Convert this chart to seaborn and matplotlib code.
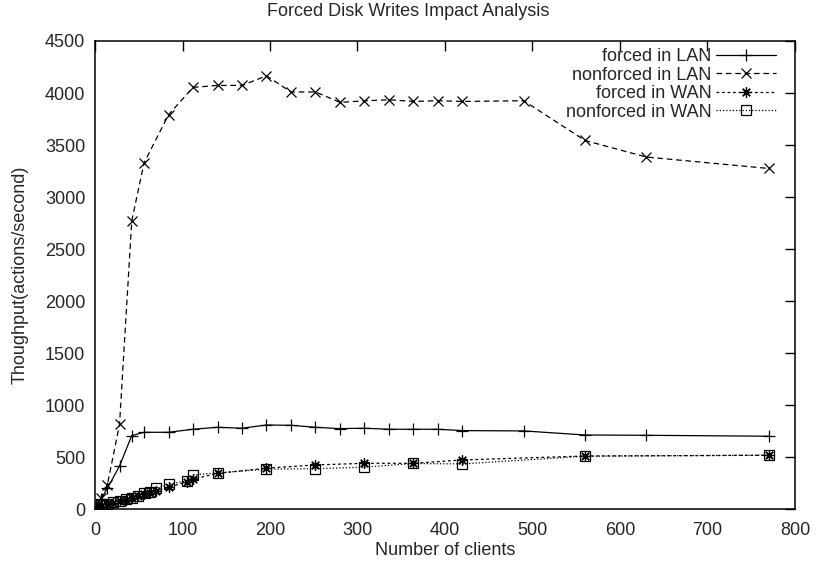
import matplotlib
matplotlib.use("Agg")
import matplotlib.pyplot as plt
import seaborn as sns
import pandas as pd

# ---- data ----
lan_clients = [1, 7, 14, 28, 42, 56, 84, 112, 140, 168, 196, 224, 252, 280,
               308, 336, 364, 392, 420, 490, 560, 630, 770]
forced_lan = [20, 100, 200, 416, 708, 740, 740, 769, 788, 779, 810, 807, 788,
              775, 779, 769, 769, 769, 756, 753, 714, 711, 702]
nonforced_lan = [20, 110, 230, 815, 2772, 3327, 3791, 4054, 4073, 4073, 4165,
                 4010, 4010, 3910, 3925, 3935, 3919, 3926, 3919, 3926, 3544,
                 3385, 3275]

wan_clients = [1, 7, 14, 21, 28, 35, 42, 49, 56, 63, 70, 84, 105, 112, 140,
               196, 252, 308, 364, 420, 560, 770]
forced_wan = [15, 35, 50, 62, 78, 92, 108, 125, 145, 160, 175, 210, 265, 290,
              345, 395, 426, 442, 442, 474, 512, 519]
nonforced_wan = [20, 40, 55, 68, 80, 98, 112, 130, 152, 163, 205, 240, 275,
                 330, 350, 385, 390, 405, 440, 436, 510, 520]

series_labels = ["forced in LAN", "nonforced in LAN", "forced in WAN",
                 "nonforced in WAN"]
title = "Forced Disk Writes Impact Analysis"
xlabel = "Number of clients"
ylabel = "Thoughput(actions/second)"
xticks = [0, 100, 200, 300, 400, 500, 600, 700, 800]
yticks = [0, 500, 1000, 1500, 2000, 2500, 3000, 3500, 4000, 4500]

sns.set_style("white")
plt.rcParams["font.family"] = ["Liberation Sans", "DejaVu Sans"]
plt.rcParams["xtick.direction"] = "in"
plt.rcParams["ytick.direction"] = "in"

FS = 13

fig = plt.figure(figsize=(8.17, 5.66), dpi=100)
ax = fig.add_axes([0.1163, 0.1002, 0.973 - 0.1163, 0.9276 - 0.1002])

styles = [
    dict(linestyle="-", marker="+", markersize=8),
    dict(linestyle=(0, (4.5, 3)), marker="x", markersize=6.5),
    dict(linestyle=(0, (2.2, 2.2)), marker=(8, 2, 0), markersize=7.5),
    dict(linestyle=(0, (1, 1.6)), marker="s", markersize=6.5,
         markerfacecolor="none"),
]
xs = [lan_clients, lan_clients, wan_clients, wan_clients]
ys = [forced_lan, nonforced_lan, forced_wan, nonforced_wan]

for x, y, lab, st in zip(xs, ys, series_labels, styles):
    df = pd.DataFrame({"clients": x, "throughput": y})
    sns.lineplot(data=df, x="clients", y="throughput", ax=ax, label=lab,
                 color="black", linewidth=0.9, markeredgewidth=0.9,
                 markeredgecolor="black", estimator=None, sort=False, **st)

ax.set_xlim(0, 800)
ax.set_ylim(0, 4500)
ax.set_xticks(xticks)
ax.set_yticks(yticks)
ax.tick_params(axis="both", which="major", length=7, width=1, color="black",
               labelsize=FS, top=True, right=True)
ax.tick_params(axis="y", pad=7)
ax.tick_params(axis="x", pad=9)
for sp in ax.spines.values():
    sp.set_color("black")
    sp.set_linewidth(1.1)

ax.set_xlabel(xlabel, fontsize=FS, va="center")
ax.xaxis.set_label_coords(0.5, (509 - 550) / 468)
ax.set_ylabel(ylabel, fontsize=FS, va="center")
ax.yaxis.set_label_coords((20 - 95) / 700, 0.5)
fig.text(0.5, 1 - 12 / 566, title, fontsize=FS, ha="center", va="center")

leg = ax.legend(loc="upper right", markerfirst=False, frameon=False,
                fontsize=FS, handlelength=3.3, handletextpad=0.25,
                labelspacing=0.08, borderaxespad=0.0,
                bbox_to_anchor=(0.983, 1.0))

fig.savefig("out.png", dpi=100)
